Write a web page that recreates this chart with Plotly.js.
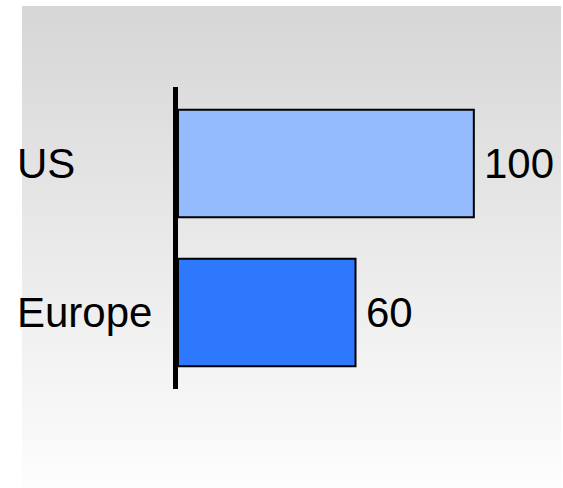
<!DOCTYPE html>
<html>
<head>
<meta charset="utf-8">
<script src="https://cdn.plot.ly/plotly-3.0.1.min.js"></script>
<style>
  html, body { margin: 0; padding: 0; background: #ffffff; }
  #bg { position: absolute; left: 22px; top: 6px; width: 539px; height: 482px;
        background: linear-gradient(to bottom, #d6d6d6 0%, #fdfdfd 100%); }
  #chart { position: absolute; left: 0; top: 0; width: 563px; height: 488px; }
  #chart path.ylines-above { stroke-linecap: round; }
</style>
</head>
<body>
<div id="bg"></div>
<div id="chart"></div>
<script>
// Data
const categories = ['US', 'Europe'];
const values = [100, 60];
const valueLabels = ['100', '60'];

// Styles
const barColors = ['#94bbfe', '#2e78fe'];
const fontFamily = '"Liberation Sans", Arial, sans-serif';

const trace = {
  type: 'bar',
  orientation: 'h',
  y: categories,
  x: values,
  marker: { color: barColors, line: { color: '#000000', width: 2 } },
  hoverinfo: 'none'
};

const annotations = [];
categories.forEach((c, i) => {
  annotations.push({
    xref: 'paper', yref: 'y', x: -0.46, y: c,
    text: c, showarrow: false, xanchor: 'left', yanchor: 'middle',
    font: { family: fontFamily, size: 42, color: '#000000' }
  });
  annotations.push({
    xref: 'x', yref: 'y', x: values[i], y: c,
    text: valueLabels[i], showarrow: false, xanchor: 'left', yanchor: 'middle',
    xshift: 8, yshift: 0,
    font: { family: fontFamily, size: 42, color: '#000000' }
  });
});

const layout = {
  width: 563, height: 488,
  margin: { l: 178, r: 30, t: 89, b: 101 },
  paper_bgcolor: 'rgba(0,0,0,0)',
  plot_bgcolor: 'rgba(0,0,0,0)',
  showlegend: false,
  bargap: 0.28,
  xaxis: { range: [0, 120], visible: false, fixedrange: true },
  yaxis: {
    type: 'category', range: [1.5, -0.5],
    showline: true, linewidth: 5, linecolor: '#000000',
    showticklabels: false, ticks: '', showgrid: false, zeroline: false,
    fixedrange: true
  },
  annotations: annotations,
  font: { family: fontFamily }
};

Plotly.newPlot('chart', [trace], layout, { staticPlot: true, displayModeBar: false });
</script>
</body>
</html>
